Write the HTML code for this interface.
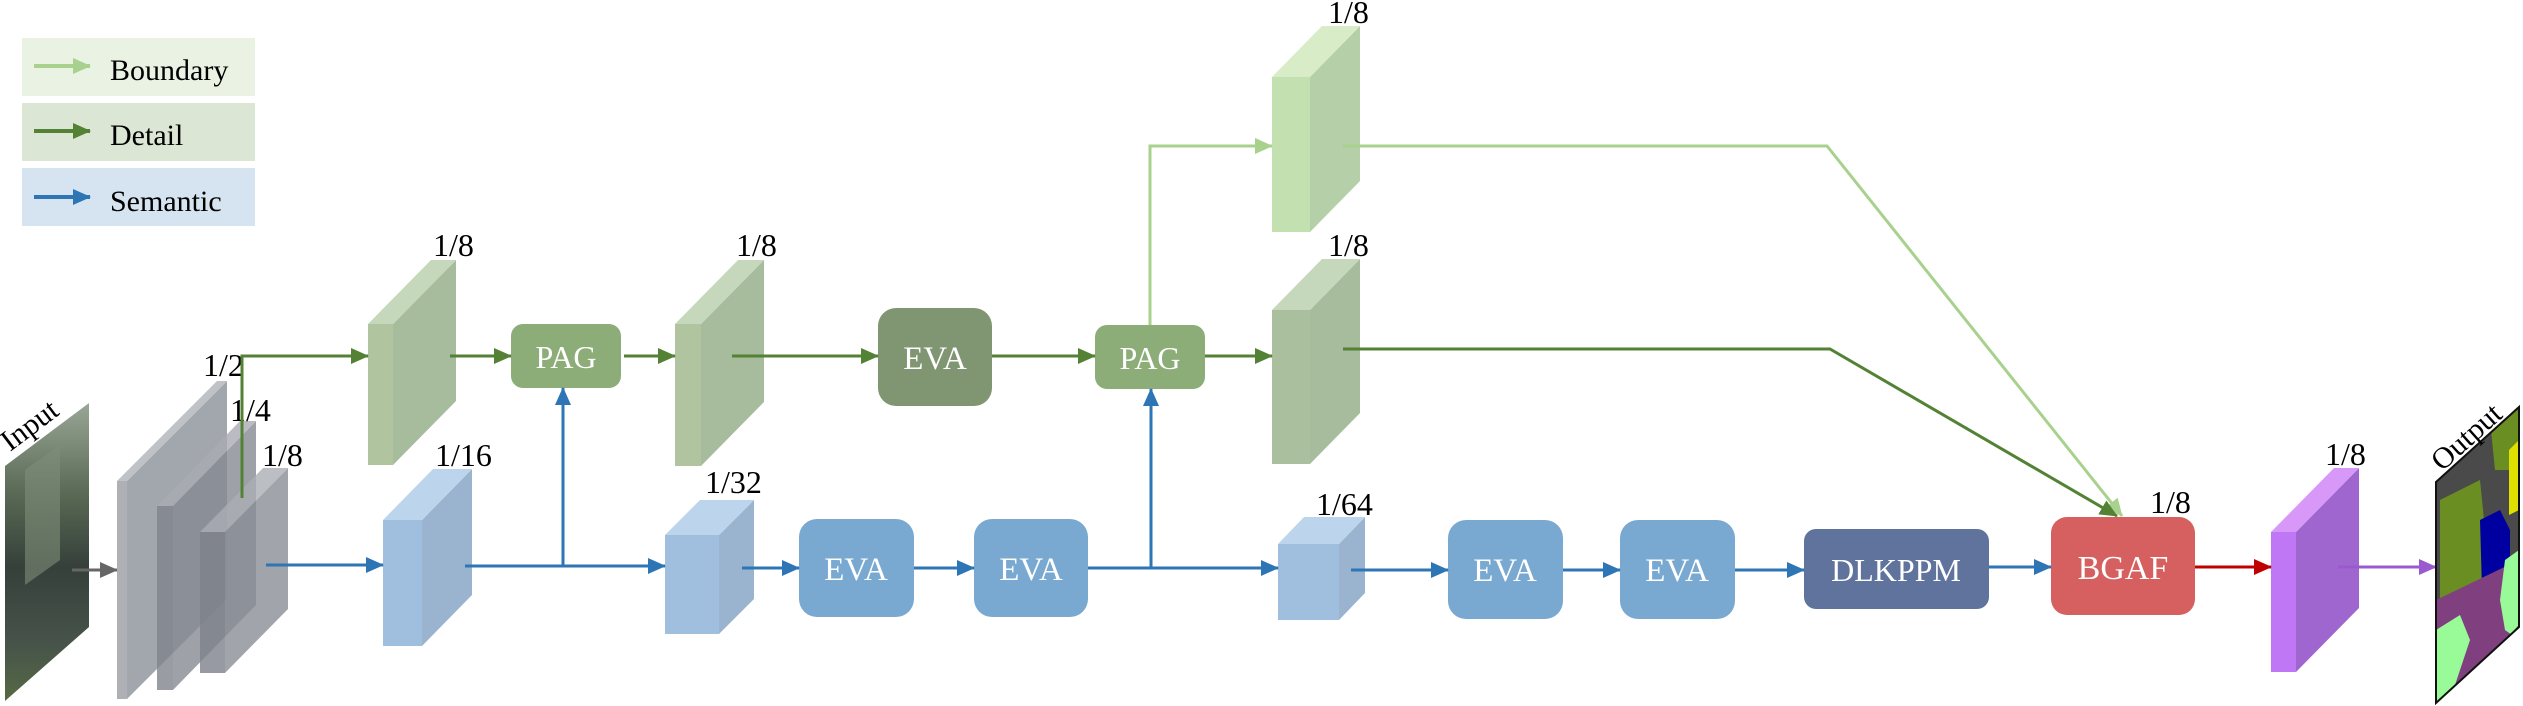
<!DOCTYPE html>
<html><head><meta charset="utf-8"><style>
html,body{margin:0;padding:0;background:#fff;}
svg{display:block;}
text{font-family:"Liberation Serif",serif;}
</style></head><body>
<svg width="2523" height="706" viewBox="0 0 2523 706" xmlns="http://www.w3.org/2000/svg">
<defs>
<marker id="aG" markerUnits="userSpaceOnUse" markerWidth="18" markerHeight="16" refX="17" refY="8" orient="auto"><path d="M0,0 L18,8 L0,16 z" fill="#548235"/></marker>
<marker id="aL" markerUnits="userSpaceOnUse" markerWidth="18" markerHeight="16" refX="17" refY="8" orient="auto"><path d="M0,0 L18,8 L0,16 z" fill="#a9d18e"/></marker>
<marker id="aB" markerUnits="userSpaceOnUse" markerWidth="18" markerHeight="16" refX="17" refY="8" orient="auto"><path d="M0,0 L18,8 L0,16 z" fill="#2e75b6"/></marker>
<marker id="aR" markerUnits="userSpaceOnUse" markerWidth="18" markerHeight="16" refX="17" refY="8" orient="auto"><path d="M0,0 L18,8 L0,16 z" fill="#c00000"/></marker>
<marker id="aP" markerUnits="userSpaceOnUse" markerWidth="18" markerHeight="16" refX="17" refY="8" orient="auto"><path d="M0,0 L18,8 L0,16 z" fill="#9b59d0"/></marker>
<marker id="aK" markerUnits="userSpaceOnUse" markerWidth="18" markerHeight="16" refX="17" refY="8" orient="auto"><path d="M0,0 L18,8 L0,16 z" fill="#666"/></marker>
<linearGradient id="inp" x1="0" y1="0" x2="0" y2="1">
<stop offset="0" stop-color="#9aa696"/><stop offset="0.3" stop-color="#5a6a55"/><stop offset="0.55" stop-color="#35403a"/><stop offset="0.8" stop-color="#46524a"/><stop offset="1" stop-color="#566a44"/></linearGradient>
<clipPath id="outc"><polygon points="2436,482 2519,407 2519,627 2436,703"/></clipPath>
</defs>

<!-- legend -->
<rect x="22" y="38" width="233" height="58" fill="#eaf2e3"/>
<rect x="22" y="103" width="233" height="58" fill="#dce6d5"/>
<rect x="22" y="168" width="233" height="58" fill="#d5e4f0"/>
<line x1="34" y1="66" x2="90" y2="66" stroke="#a9d18e" stroke-width="4" marker-end="url(#aL)"/>
<line x1="34" y1="131" x2="90" y2="131" stroke="#548235" stroke-width="4" marker-end="url(#aG)"/>
<line x1="34" y1="197" x2="90" y2="197" stroke="#2e75b6" stroke-width="4" marker-end="url(#aB)"/>
<text x="110" y="80" font-size="30">Boundary</text>
<text x="110" y="145" font-size="30">Detail</text>
<text x="110" y="211" font-size="30">Semantic</text>

<!-- input -->
<polygon points="5,466 89,403 89,627 5,701" fill="url(#inp)"/>
<polygon points="25,470 60,445 60,560 25,585" fill="#7f8d7a" opacity="0.6"/>
<text x="0" y="0" font-size="30" transform="translate(10,452) rotate(-37)">Input</text>
<line x1="72" y1="570" x2="117" y2="570" stroke="#666" stroke-width="3" marker-end="url(#aK)"/>

<!-- gray slabs -->
<g opacity="0.8">
<polygon points="127,481 227,381 227,599 127,699" fill="#8c9099"/><polygon points="117,481 217,381 227,381 127,481" fill="#b0b3b9"/><rect x="117" y="481" width="10" height="218" fill="#9a9da5"/>
</g>
<g opacity="0.8">
<polygon points="173,506 256,421 256,605 173,690" fill="#868a93"/><polygon points="157,506 240,421 256,421 173,506" fill="#a9acb3"/><rect x="157" y="506" width="16" height="184" fill="#80848d"/>
</g>
<g opacity="0.8">
<polygon points="225,532 288,468 288,609 225,673" fill="#8a8e97"/><polygon points="200,532 263,468 288,468 225,532" fill="#abaeb5"/><rect x="200" y="532" width="25" height="141" fill="#7e828b"/>
</g>
<text x="203" y="376" font-size="32">1/2</text>
<text x="230" y="421" font-size="32">1/4</text>
<text x="262" y="466" font-size="32">1/8</text>

<!-- green cuboids -->
<polygon points="393,324 456,260 456,401 393,465" fill="#a7bb9d"/><polygon points="368,324 431,260 456,260 393,324" fill="#c6d8bb"/><rect x="368" y="324" width="25" height="141" fill="#b0c4a0"/>
<text x="433" y="256" font-size="32">1/8</text>
<polygon points="701,324 764,260 764,402 701,466" fill="#a7bb9d"/><polygon points="675,324 738,260 764,260 701,324" fill="#c6d8bb"/><rect x="675" y="324" width="26" height="142" fill="#b0c4a0"/>
<text x="736" y="256" font-size="32">1/8</text>
<polygon points="1310,77 1360,26 1360,181 1310,232" fill="#b5cfa8"/><polygon points="1272,77 1322,26 1360,26 1310,77" fill="#d8ecc8"/><rect x="1272" y="77" width="38" height="155" fill="#c2e0b0"/>
<text x="1328" y="23" font-size="32">1/8</text>
<polygon points="1310,310 1360,259 1360,413 1310,464" fill="#a7bb9d"/><polygon points="1272,310 1322,259 1360,259 1310,310" fill="#c6d8bb"/><rect x="1272" y="310" width="38" height="154" fill="#aabf9d"/>
<text x="1328" y="256" font-size="32">1/8</text>

<!-- blue cuboids -->
<polygon points="422,520 472,469 472,595 422,646" fill="#9ab4cf"/><polygon points="383,520 433,469 472,469 422,520" fill="#bcd5ec"/><rect x="383" y="520" width="39" height="126" fill="#a0bedd"/>
<text x="435" y="466" font-size="32">1/16</text>
<polygon points="719,535 754,500 754,599 719,634" fill="#9ab4cf"/><polygon points="665,535 700,500 754,500 719,535" fill="#bcd5ec"/><rect x="665" y="535" width="54" height="99" fill="#a0bedd"/>
<text x="705" y="493" font-size="32">1/32</text>
<polygon points="1339,544 1365,517 1365,593 1339,620" fill="#9ab4cf"/><polygon points="1278,544 1304,517 1365,517 1339,544" fill="#bcd5ec"/><rect x="1278" y="544" width="61" height="76" fill="#a0bedd"/>
<text x="1316" y="515" font-size="32">1/64</text>

<!-- purple -->
<polygon points="2296,532 2359,468 2359,608 2296,672" fill="#a066d0"/><polygon points="2271,532 2334,468 2359,468 2296,532" fill="#d898f8"/><rect x="2271" y="532" width="25" height="140" fill="#c077f5"/>
<text x="2325" y="465" font-size="32">1/8</text>

<!-- boxes -->
<rect x="511" y="324" width="110" height="64" rx="12" fill="#8cad78"/><text x="566" y="368" font-size="32" fill="#fff" text-anchor="middle">PAG</text>
<rect x="878" y="308" width="114" height="98" rx="18" fill="#809572"/><text x="935" y="369" font-size="33" fill="#fff" text-anchor="middle">EVA</text>
<rect x="1095" y="325" width="110" height="64" rx="12" fill="#8cad78"/><text x="1150" y="369" font-size="32" fill="#fff" text-anchor="middle">PAG</text>
<rect x="799" y="519" width="115" height="98" rx="18" fill="#79a9d1"/><text x="856" y="580" font-size="33" fill="#fff" text-anchor="middle">EVA</text>
<rect x="974" y="519" width="114" height="98" rx="18" fill="#79a9d1"/><text x="1031" y="580" font-size="33" fill="#fff" text-anchor="middle">EVA</text>
<rect x="1448" y="520" width="115" height="99" rx="18" fill="#79a9d1"/><text x="1505" y="581" font-size="33" fill="#fff" text-anchor="middle">EVA</text>
<rect x="1620" y="520" width="115" height="99" rx="18" fill="#79a9d1"/><text x="1677" y="581" font-size="33" fill="#fff" text-anchor="middle">EVA</text>
<rect x="1804" y="529" width="185" height="80" rx="12" fill="#5f739d"/><text x="1896" y="581" font-size="32" fill="#fff" text-anchor="middle">DLKPPM</text>
<rect x="2051" y="517" width="144" height="98" rx="16" fill="#d65f5f"/><text x="2123" y="579" font-size="34" fill="#fff" text-anchor="middle">BGAF</text>
<text x="2150" y="513" font-size="32">1/8</text>

<!-- connectors -->
<g fill="none" stroke-width="3">
<polyline points="242,498 242,356 368,356" stroke="#548235" marker-end="url(#aG)"/>
<line x1="450" y1="356" x2="511" y2="356" stroke="#548235" marker-end="url(#aG)"/>
<line x1="624" y1="356" x2="675" y2="356" stroke="#548235" marker-end="url(#aG)"/>
<line x1="732" y1="356" x2="878" y2="356" stroke="#548235" marker-end="url(#aG)"/>
<line x1="992" y1="356" x2="1095" y2="356" stroke="#548235" marker-end="url(#aG)"/>
<line x1="1205" y1="356" x2="1272" y2="356" stroke="#548235" marker-end="url(#aG)"/>
<polyline points="1150,325 1150,146 1272,146" stroke="#a9d18e" marker-end="url(#aL)"/>
<polyline points="1343,146 1827,146 2122,516" stroke="#a9d18e" marker-end="url(#aL)"/>
<polyline points="1343,349 1830,349 2117,516" stroke="#548235" marker-end="url(#aG)"/>
<line x1="266" y1="565" x2="383" y2="565" stroke="#2e75b6" marker-end="url(#aB)"/>
<line x1="465" y1="566" x2="665" y2="566" stroke="#2e75b6" marker-end="url(#aB)"/>
<line x1="563" y1="566" x2="563" y2="388" stroke="#2e75b6" marker-end="url(#aB)"/>
<line x1="742" y1="568" x2="799" y2="568" stroke="#2e75b6" marker-end="url(#aB)"/>
<line x1="914" y1="568" x2="974" y2="568" stroke="#2e75b6" marker-end="url(#aB)"/>
<line x1="1088" y1="568" x2="1278" y2="568" stroke="#2e75b6" marker-end="url(#aB)"/>
<line x1="1151" y1="568" x2="1151" y2="389" stroke="#2e75b6" marker-end="url(#aB)"/>
<line x1="1351" y1="570" x2="1448" y2="570" stroke="#2e75b6" marker-end="url(#aB)"/>
<line x1="1563" y1="570" x2="1620" y2="570" stroke="#2e75b6" marker-end="url(#aB)"/>
<line x1="1735" y1="570" x2="1804" y2="570" stroke="#2e75b6" marker-end="url(#aB)"/>
<line x1="1989" y1="567" x2="2051" y2="567" stroke="#2e75b6" marker-end="url(#aB)"/>
<line x1="2195" y1="567" x2="2271" y2="567" stroke="#c00000" marker-end="url(#aR)"/>
<line x1="2338" y1="567" x2="2436" y2="567" stroke="#9b59d0" marker-end="url(#aP)"/>
</g>

<!-- output -->
<g clip-path="url(#outc)">
<rect x="2430" y="400" width="100" height="310" fill="#4a4a4a"/>
<polygon points="2440,500 2480,480 2485,530 2500,560 2480,600 2440,620" fill="#6b8e23"/>
<polygon points="2490,420 2519,400 2519,470 2495,470" fill="#6b8e23"/>
<polygon points="2480,520 2500,510 2510,530 2510,580 2482,590" fill="#0000a0"/>
<polygon points="2509,450 2519,440 2519,510 2509,515" fill="#e0e000"/>
<polygon points="2436,600 2519,560 2519,710 2436,710" fill="#804080"/>
<polygon points="2505,560 2519,550 2519,640 2505,630 2500,600" fill="#98fb98"/>
<polygon points="2436,630 2460,615 2470,640 2450,700 2436,705" fill="#98fb98"/>
<polygon points="2460,690 2519,625 2519,710 2460,710" fill="#000"/>
</g>
<polygon points="2436,482 2519,407 2519,627 2436,703" fill="none" stroke="#111" stroke-width="2"/>
<text x="0" y="0" font-size="30" transform="translate(2442,472) rotate(-42)">Output</text>
</svg>
</body></html>
